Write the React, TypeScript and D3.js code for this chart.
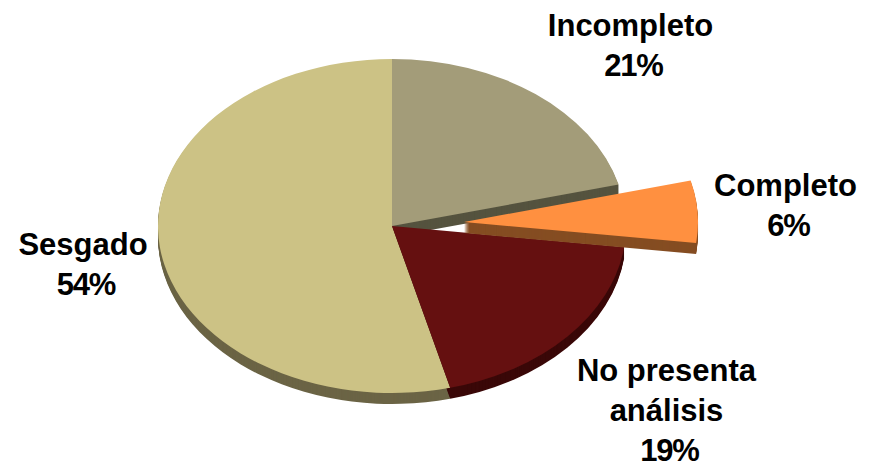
import React from "react";
import * as d3 from "d3";

const categories = ["Incompleto", "Completo", "No presenta análisis", "Sesgado"];
const values = [21, 6, 19, 54];
const topColors = ["#A39C79", "#FF9040", "#651010", "#CCC285"];
const sideColors = ["#55533F", "#854D22", "#3A0808", "#6B6445"];
const explodeX = [0, 72, 0, 0];
const explodeY = [0, -4, 0, 0];
const labels = [
  { lines: ["Incompleto", "21%"], x: 630.5, y: 36 },
  { lines: ["Completo", "6%"], x: 785.5, y: 196 },
  { lines: ["No presenta", "análisis", "19%"], x: 666.5, y: 381 },
  { lines: ["Sesgado", "54%"], x: 83, y: 255 },
];

const W = 876, H = 463, cx = 392, cy = 226, rx = 234, ry = 167, depth = 11;

export default function App() {
  const arcs = d3.pie<number>().sort(null)(values);
  const arc = d3.arc<d3.PieArcDatum<number>>().innerRadius(0).outerRadius(rx);
  const ratio = ry / rx;
  const base = [0, 3, 2];
  const steps = d3.range(depth, 0, -1);
  const slice = (i: number, dy: number, fill: string) => (
    <g key={i + "-" + dy} transform={`translate(${cx + explodeX[i]},${cy + explodeY[i] + dy}) scale(1,${ratio})`}>
      <path d={arc(arcs[i]) || ""} fill={fill} />
    </g>
  );
  return (
    <svg width={W} height={H} style={{ position: "absolute", left: 0, top: 0, background: "#fff" }}>
      {base.map((i) => steps.map((s) => slice(i, s, sideColors[i])))}
      {base.map((i) => slice(i, 0, topColors[i]))}
      <g aria-label={categories[1]}>
        {steps.map((s) => slice(1, s, sideColors[1]))}
        {slice(1, 0, topColors[1])}
      </g>
      {labels.map((l, i) => (
        <text key={i} textAnchor="middle" fontFamily="Liberation Sans, Arial, sans-serif" fontWeight="bold" fontSize={31} fill="#000">
          {l.lines.map((t, j) => {
            const pct = /%/.test(t);
            return (
              <tspan key={j} x={pct ? l.x + 3 : l.x} y={l.y + j * 40} letterSpacing={pct ? -1.2 : 0}>{t}</tspan>
            );
          })}
        </text>
      ))}
    </svg>
  );
}
